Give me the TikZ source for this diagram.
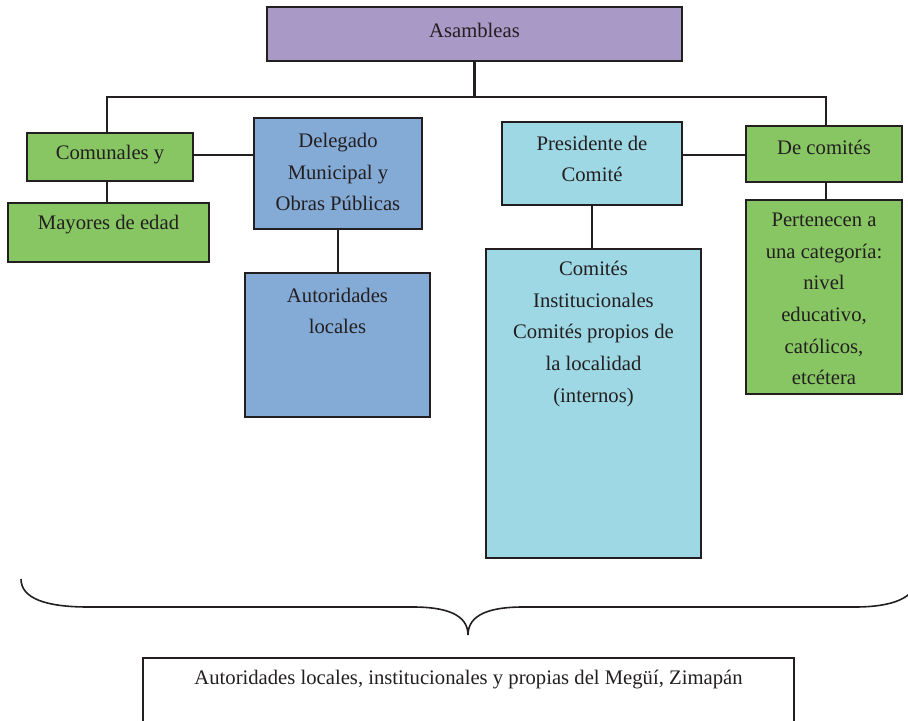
\documentclass[tikz,border=0pt]{standalone}
\usepackage{fontspec}
\setmainfont{Liberation Serif}
\definecolor{purp}{RGB}{168,153,198}
\definecolor{grn}{RGB}{135,198,99}
\definecolor{blu}{RGB}{132,170,214}
\definecolor{lblu}{RGB}{158,216,228}
\definecolor{ink}{RGB}{35,31,32}
\tikzset{
  boxnode/.style={draw=ink, line width=1.6pt, inner sep=0pt, outer sep=0pt, text=ink,
    font=\fontsize{15.5}{23.7}\selectfont, align=center},
  txt/.style={inner sep=0pt, outer sep=0pt, text=ink, font=\fontsize{15.5}{23.7}\selectfont, align=center},
  conn/.style={draw=ink, line width=1.6pt},
  bracestyle/.style={draw=ink, line width=1.2pt}
}
\begin{document}
\begin{tikzpicture}[x=0.75pt,y=-0.75pt]
\useasboundingbox (0,0) rectangle (908,721);
\clip (0,0) rectangle (908,721);
% boxes
\node[boxnode, fill=purp, minimum width=415*0.75pt, minimum height=54*0.75pt] (asam) at (474.5,34) {};
\node[txt] (asamt) at (474.5,30) {Asambleas};
\node[boxnode, fill=grn, minimum width=166*0.75pt, minimum height=48*0.75pt] (comun) at (110,157) {};
\node[txt] (comunt) at (110,155) {Comunales y};
\node[boxnode, fill=grn, minimum width=201*0.75pt, minimum height=59*0.75pt] (mayores) at (108.5,232.5) {};
\node[txt] (mayorest) at (108.5,225) {Mayores de edad};
\node[boxnode, fill=blu, minimum width=168*0.75pt, minimum height=111*0.75pt] (deleg) at (338,173.5) {};
\node[txt] (delegt) at (338,172) {Delegado\\Municipal y\\Obras Públicas};
\node[boxnode, fill=blu, minimum width=185*0.75pt, minimum height=144*0.75pt] (autor) at (337.5,345) {};
\node[txt] (autort) at (337.5,311) {Autoridades\\locales};
\node[boxnode, fill=lblu, minimum width=180*0.75pt, minimum height=83*0.75pt] (pres) at (592,163.5) {};
\node[txt] (prest) at (592,159) {Presidente de\\Comité};
\node[boxnode, fill=grn, minimum width=156*0.75pt, minimum height=56*0.75pt] (decom) at (824,154) {};
\node[txt] (decomt) at (824,147) {De comités};
\node[boxnode, fill=grn, minimum width=156*0.75pt, minimum height=194*0.75pt] (perten) at (824,297) {};
\node[txt] (pertent) at (824,299) {Pertenecen a\\una categoría:\\nivel\\educativo,\\católicos,\\etcétera};
\node[boxnode, fill=lblu, minimum width=215*0.75pt, minimum height=309*0.75pt] (comites) at (593.5,403.5) {};
\node[txt] (comitest) at (593.5,334) {Comités\\Institucionales\\Comités propios de\\la localidad\\(internos)};
\node[boxnode, fill=white, minimum width=651*0.75pt, minimum height=120*0.75pt] (bottom) at (468.5,718) {};
\node[txt] (bottomt) at (468.5,680) {Autoridades locales, institucionales y propias del Megüí, Zimapán};
% connectors
\coordinate (busL) at (107,97);
\coordinate (busR) at (826,97);
\draw[conn] (asam.south) -- (asam.south |- busL);
\draw[conn] (busL |- comun.north) -- (busL) -- (busR) -- (busR |- decom.north);
\draw[conn] (busL |- comun.south) -- (busL |- mayores.north);
\draw[conn] (comun.east) ++(0,-2) coordinate (cA) -- (cA -| deleg.west);
\draw[conn] (deleg.south) -- (deleg.south |- autor.north);
\draw[conn] (decom.west) ++(0,1) coordinate (cB) -- (cB -| pres.east);
\draw[conn] (pres.south) -- (pres.south |- comites.north);
\draw[conn] (busR |- decom.south) -- (busR |- perten.north);
% brace
\coordinate (brL) at (21,579);
\coordinate (brTip) at (468,635);
\coordinate (brR) at (916,579);
\draw[bracestyle] (brL) .. controls (21,598) and (45,607) .. (88,607) -- (413,607)
  .. controls (445,607) and (468,614) .. (brTip)
  .. controls (468,614) and (491,607) .. (523,607) -- (855,607)
  .. controls (892,607) and (916,598) .. (brR);
\end{tikzpicture}
\end{document}
